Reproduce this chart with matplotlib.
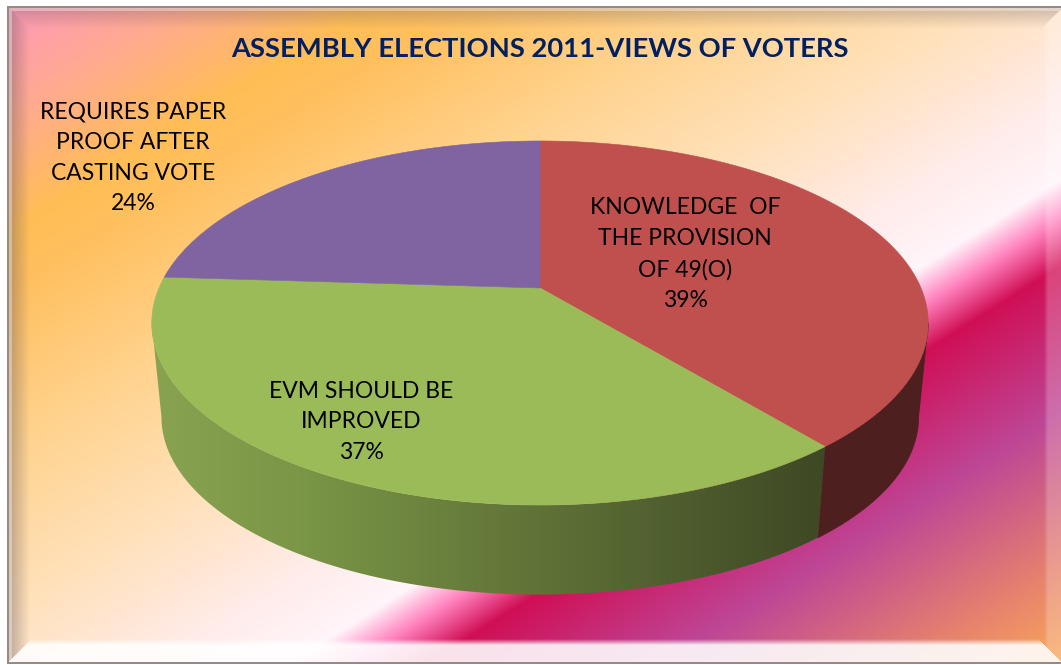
import numpy as np
import matplotlib
matplotlib.use("Agg")
import matplotlib.pyplot as plt
from matplotlib.patches import Polygon

W, H = 1061, 665

title = "ASSEMBLY ELECTIONS 2011-VIEWS OF VOTERS"
labels = ["KNOWLEDGE  OF\nTHE PROVISION\nOF 49(O)", "EVM SHOULD BE\nIMPROVED", "REQUIRES PAPER\nPROOF AFTER\nCASTING VOTE"]
values = [39, 37, 24]
top_colors = ["#C0504D", "#9BBB59", "#8064A2"]
label_xy = [(685, 254), (361, 422), (133, 158)]

# background stops along the diagonal, 0 = top left corner, 2 = bottom right
bg_t = [0.0, 0.18, 0.36, 0.45, 0.70, 0.95, 1.15, 1.27, 1.33, 1.40, 1.62, 1.85, 2.0]
bg_rgb = [(255, 150, 190), (255, 170, 145), (255, 190, 85), (255, 192, 95),
          (255, 212, 145), (255, 226, 190), (255, 236, 235), (255, 245, 250),
          (255, 130, 190), (208, 15, 85), (190, 70, 150), (230, 130, 110), (250, 168, 90)]

# 3d pie geometry, in pixels
cx, cy = 540, 288
a, b, k = 381, 175.3, 0.1923
drop, shrink = 95, 0.975


def ring(deg, lower=False):
    # deg runs clockwise from 12 o'clock; perspective makes the back smaller
    th = np.radians(deg)
    u, v = np.sin(th), np.cos(th)
    w = 1 + k * v
    x, y = a * u / w, -b * v / w
    if lower:
        return cx + shrink * x, cy + drop + shrink * y
    return cx + x, cy + y


def background():
    yy, xx = np.mgrid[0:H, 0:W] + 0.5
    t = xx / W + yy / H
    rgb = np.stack([np.interp(t, bg_t, [c[i] for c in bg_rgb]) for i in range(3)], axis=-1) / 255

    # bevelled frame: darker along top and left, bright along the bottom
    x0, x1, y0, y1 = 7, 1064, 6, 664
    dl, dr, dt, db = xx - x0, x1 - xx, yy - y0, y1 - yy
    near = np.minimum.reduce([dl, dr, dt, db])
    fade = np.clip(1 - (near - 5) / 18, 0, 1)
    shade = np.zeros((H, W))
    light = np.zeros((H, W))
    shade = np.where(dt == near, 0.28 * fade, shade)
    shade = np.where(dl == near, 0.38 * fade, shade)
    light = np.where(db == near, 0.88 * np.clip((25 - db) / 6, 0, 1), light)
    light = np.where(dr == near, 0.22 * np.clip((20 - dr) / 4, 0, 1), light)
    # thin pale strip on the outer lip of the bevel
    lip = np.where((near >= 2) & (near < 5) & (db != near) & (dr != near), 0.35, 0.0)
    rgb = rgb * (1 - shade[..., None]) + np.array([0.42, 0.36, 0.38]) * shade[..., None]
    rgb = rgb * (1 - light[..., None]) + light[..., None]
    rgb = rgb * (1 - lip[..., None]) + lip[..., None]

    # grey outline and white margin
    rgb[near < 2] = np.array([0.60, 0.54, 0.52])
    rgb[near < 0] = 1.0
    return rgb


fig = plt.figure(figsize=(W / 100, H / 100), dpi=100)
ax = fig.add_axes([0, 0, 1, 1])
ax.imshow(background(), extent=(0, W, H, 0), aspect="auto", interpolation="bilinear", zorder=0)

# slice angles from the values
edges = 360 * np.cumsum([0] + values) / sum(values)


def side_poly(d0, d1):
    deg = np.linspace(d0, d1, 120)
    xu, yu = ring(deg)
    xl, yl = ring(deg[::-1], lower=True)
    return np.column_stack([np.r_[xu, xl], np.r_[yu, yl]])


# visible part of the rim, from the right silhouette round to the left one
rim_start, rim_end = 101, 259

red_side = Polygon(side_poly(rim_start, edges[1]), closed=True, fc="#4E1F1F", ec="#4E1F1F", lw=0.6, zorder=2)
ax.add_patch(red_side)

# green rim fades from left to right
green_side = Polygon(side_poly(edges[1], rim_end), closed=True, fc="none", ec="none", zorder=2)
ax.add_patch(green_side)
gx = np.linspace(150, 830, 340)
gstops_x = [150, 300, 500, 700, 830]
gstops = [(137, 163, 81), (122, 150, 70), (100, 120, 58), (76, 90, 45), (62, 72, 36)]
grad = np.stack([np.interp(gx, gstops_x, [c[i] for c in gstops]) for i in range(3)], axis=-1)[None, :, :] / 255
im = ax.imshow(grad, extent=(150, 830, 600, 300), aspect="auto", zorder=2)
im.set_clip_path(green_side)

# top faces
for i, col in enumerate(top_colors):
    deg = np.linspace(edges[i], edges[i + 1], 200)
    x, y = ring(deg)
    ax.fill(np.r_[cx, x], np.r_[cy, y], fc=col, ec=col, lw=0.4, zorder=3)

font = "Lato"
for lab, val, (tx, ty) in zip(labels, values, label_xy):
    ax.text(tx, ty, f"{lab}\n{val}%", ha="center", va="center", fontsize=16.5, family=font,
            color="black", linespacing=1.56, zorder=4)

ax.text(540, 49, title, ha="center", va="center", fontsize=19.7, fontweight="bold", family=font,
        color="#00205F", zorder=4)

ax.set_xlim(0, W)
ax.set_ylim(H, 0)
ax.axis("off")
fig.savefig("out.png", dpi=100)
